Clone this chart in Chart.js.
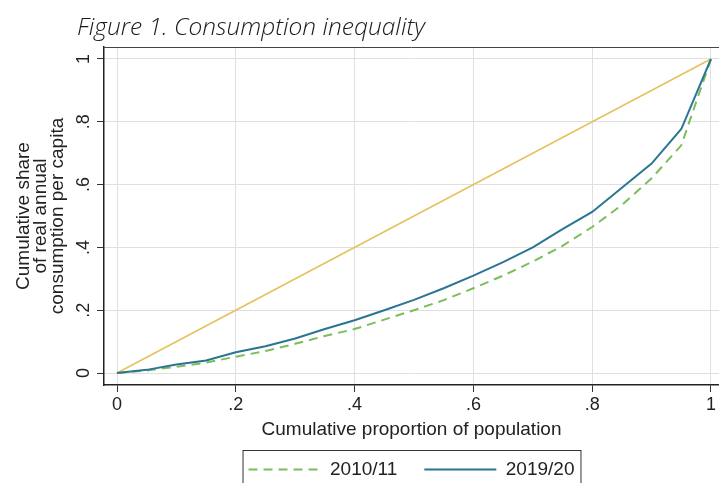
<!DOCTYPE html>
<html>
<head>
<meta charset="utf-8">
<script src="https://cdn.jsdelivr.net/npm/chart.js@4"></script>
<style>
  html, body { margin: 0; padding: 0; background: #fff; }
  #wrap { width: 719px; height: 483px; }
</style>
</head>
<body>
<div id="wrap"><canvas id="myChart" width="719" height="483"></canvas></div>
<script>
/* Data section */
var popShare = [0, 0.05, 0.1, 0.15, 0.2, 0.25, 0.3, 0.35, 0.4, 0.45, 0.5, 0.55, 0.6, 0.65, 0.7, 0.75, 0.8, 0.85, 0.9, 0.95, 1];
var share2010 = [0, 0.008, 0.02, 0.033, 0.052, 0.07, 0.093, 0.118, 0.14, 0.17, 0.2, 0.232, 0.27, 0.31, 0.355, 0.405, 0.465, 0.535, 0.62, 0.725, 1];
var share2019 = [0, 0.01, 0.027, 0.04, 0.066, 0.085, 0.11, 0.14, 0.168, 0.2, 0.233, 0.27, 0.31, 0.353, 0.4, 0.458, 0.513, 0.59, 0.667, 0.777, 1];
var equalityX = [0, 1];
var equalityY = [0, 1];
var tickValues = [0, 0.2, 0.4, 0.6, 0.8, 1];
var tickLabels = ['0', '.2', '.4', '.6', '.8', '1'];

function toPoints(xs, ys) {
    return xs.map(function (x, i) { return { x: x, y: ys[i] }; });
}

/* Plugin: figure caption, top frame line and legend box */
var extras = {
    id: 'extras',
    afterDraw: function (chart) {
        var ctx = chart.ctx;
        var area = chart.chartArea;
        ctx.save();
        ctx.fillStyle = '#1a1a1a';
        ctx.font = 'italic 300 24.5px "Open Sans", Lato, sans-serif';
        ctx.textBaseline = 'alphabetic';
        ctx.fillText('Figure 1. Consumption inequality', 77, 35);

        ctx.strokeStyle = '#444';
        ctx.lineWidth = 1;
        ctx.beginPath();
        ctx.moveTo(area.left, area.top + 0.5);
        ctx.lineTo(area.right, area.top + 0.5);
        ctx.stroke();

        var boxes = chart.legend.legendHitBoxes;
        if (boxes && boxes.length) {
            var first = boxes[0], last = boxes[boxes.length - 1];
            var l = first.left - 6, r = last.left + last.width + 6, t = first.top - 10;
            ctx.strokeStyle = '#333';
            ctx.strokeRect(l + 0.5, t + 0.5, r - l, chart.height - t + 5);
        }
        ctx.restore();
    }
};

/* Chart section */
var ctx = document.getElementById('myChart').getContext('2d');
var myChart = new Chart(ctx, {
    type: 'line',
    data: {
        datasets: [{
            data: toPoints(equalityX, equalityY),
            label: 'Equality',
            borderColor: '#e6c25c',
            borderWidth: 1.6,
            pointRadius: 0,
            order: 3
        }, {
            data: toPoints(popShare, share2010),
            label: '2010/11',
            borderColor: '#7cbd5a',
            borderWidth: 2,
            borderDash: [9, 6],
            pointRadius: 0,
            order: 2
        }, {
            data: toPoints(popShare, share2019),
            label: '2019/20',
            borderColor: '#2b7593',
            borderWidth: 2,
            pointRadius: 0,
            order: 1
        }]
    },
    options: {
        responsive: false,
        animation: false,
        layout: { padding: { top: 47, right: 0, bottom: 0, left: 0 } },
        plugins: {
            tooltip: { enabled: false },
            legend: {
                position: 'bottom',
                fullSize: false,
                maxHeight: 50,
                labels: {
                    filter: function (item) { return item.datasetIndex > 0; },
                    sort: function (a, b) { return a.datasetIndex - b.datasetIndex; },
                    generateLabels: function (chart) {
                        var items = Chart.defaults.plugins.legend.labels.generateLabels(chart);
                        items.forEach(function (item) {
                            var ds = chart.data.datasets[item.datasetIndex];
                            item.lineDash = ds.borderDash || [];
                            item.lineWidth = ds.borderWidth;
                            item.strokeStyle = ds.borderColor;
                        });
                        return items;
                    },
                    usePointStyle: true,
                    pointStyle: 'line',
                    pointStyleWidth: 72,
                    padding: 27,
                    color: '#222',
                    font: { family: '"Liberation Sans", Arial, sans-serif', size: 19 }
                }
            }
        },
        scales: {
            x: {
                type: 'linear',
                min: -0.0219,
                max: 1.0135,
                afterBuildTicks: function (axis) {
                    axis.ticks = tickValues.map(function (v) { return { value: v }; });
                },
                afterFit: function (scale) { scale.height = 48; },
                grid: { color: '#e0e0e0', tickColor: '#333', tickLength: 7, lineWidth: 1 },
                border: { display: true, color: '#222', width: 1.5 },
                ticks: {
                    padding: 2,
                    color: '#222',
                    font: { family: '"Liberation Sans", Arial, sans-serif', size: 18 },
                    callback: function (value, index) { return tickLabels[index]; }
                },
                title: {
                    display: true,
                    text: 'Cumulative proportion of population',
                    color: '#222',
                    padding: { top: 0, bottom: -6.5 },
                    font: { family: '"Liberation Sans", Arial, sans-serif', size: 19, lineHeight: 1 }
                }
            },
            y: {
                type: 'linear',
                min: -0.0382,
                max: 1.0382,
                afterBuildTicks: function (axis) {
                    axis.ticks = tickValues.map(function (v) { return { value: v }; });
                },
                afterFit: function (scale) { scale.width = 104; },
                grid: { color: '#e0e0e0', tickColor: '#333', tickLength: 7, lineWidth: 1 },
                border: { display: true, color: '#222', width: 1.5 },
                ticks: {
                    padding: 5,
                    minRotation: 90,
                    maxRotation: 90,
                    crossAlign: 'center',
                    color: '#222',
                    font: { family: '"Liberation Sans", Arial, sans-serif', size: 18 },
                    callback: function (value, index) { return tickLabels[index]; }
                },
                title: {
                    display: true,
                    text: ['Cumulative share', 'of real annual', 'consumption per capita'],
                    color: '#222',
                    padding: { top: 16, bottom: 0 },
                    font: { family: '"Liberation Sans", Arial, sans-serif', size: 19, lineHeight: 0.87 }
                }
            }
        }
    },
    plugins: [extras]
});
</script>
</body>
</html>
